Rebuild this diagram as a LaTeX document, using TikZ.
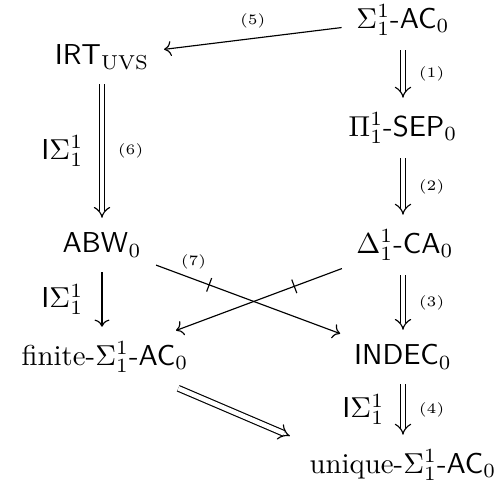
\documentclass[tikz,border=0pt]{standalone}
\usepackage{amssymb}
\usepackage{amsmath}
\usetikzlibrary{arrows.meta}

\begin{document}
\begin{tikzpicture}[x=0.01221cm,y=-0.01221cm,
				thin,main node/.style = {inner sep = 3pt},
				dbl/.style = {double, double distance = 1.6pt, -{Implies}, shorten >= 2pt, shorten <= 2pt},
				sgl/.style = {->, shorten >= 2pt, shorten <= 2pt},
				lbl/.style = {font = \tiny},
				tick mark/.style = {sloped, draw, inner sep = 0pt, minimum width = 0pt, minimum height = 5pt}]
				
				\useasboundingbox (0,0) rectangle (501,493);
				
				\node[main node] at (403,20) (1) {$\Sigma^1_1$-$\mathsf{AC}_0$};
				\node[main node] at (102,57) (2) {$\mathsf{IRT}_{\mathrm{UVS}}$};
				\node[main node] at (403,128) (3) {$\Pi^1_1$-$\mathsf{SEP}_0$};
				\node[main node] at (102,245) (4) {$\mathsf{ABW}_0$};
				\node[main node] at (405,245) (5) {$\Delta^1_1$-$\mathsf{CA}_0$};
				\node[main node] at (105,357) (6) {finite-$\Sigma^1_1$-$\mathsf{AC}_0$};
				\node[main node] at (403,357) (7) {$\mathsf{INDEC}_0$};
				\node[main node] at (403,465) (8) {unique-$\Sigma^1_1$-$\mathsf{AC}_0$};
				
				\path
				(1) edge[dbl] node[lbl,right = 2pt] {(1)} (3)
				edge[sgl] node[lbl,above] {(5)} (2)
				(3) edge[dbl] node[lbl,right = 2pt] {(2)} (3 |- 5.north)
				(5) edge[sgl] node[tick mark,pos = 0.3] {} (6)
				(3 |- 5.south) edge[dbl] node[lbl,right = 2pt] {(3)} (7)
				(7) edge[dbl] node[lbl,right = 2pt] {(4)} node[left = 3pt] {$\mathsf{I}\Sigma^1_1$} (8)
				(2) edge[dbl] node[lbl,right = 2pt] {(6)} node[left = 3pt] {$\mathsf{I}\Sigma^1_1$} (4)
				(4) edge[sgl] node[left = 3pt] {$\mathsf{I}\Sigma^1_1$} (4 |- 6.north)
				edge[sgl] node[tick mark,pos = 0.3] {} node[lbl,pos = 0.22,above = 0pt] {(7)} (7)
				(6) edge[dbl,shorten <= 6pt,shorten >= 4pt] (8.north west);
				\end{tikzpicture}
\end{document}
